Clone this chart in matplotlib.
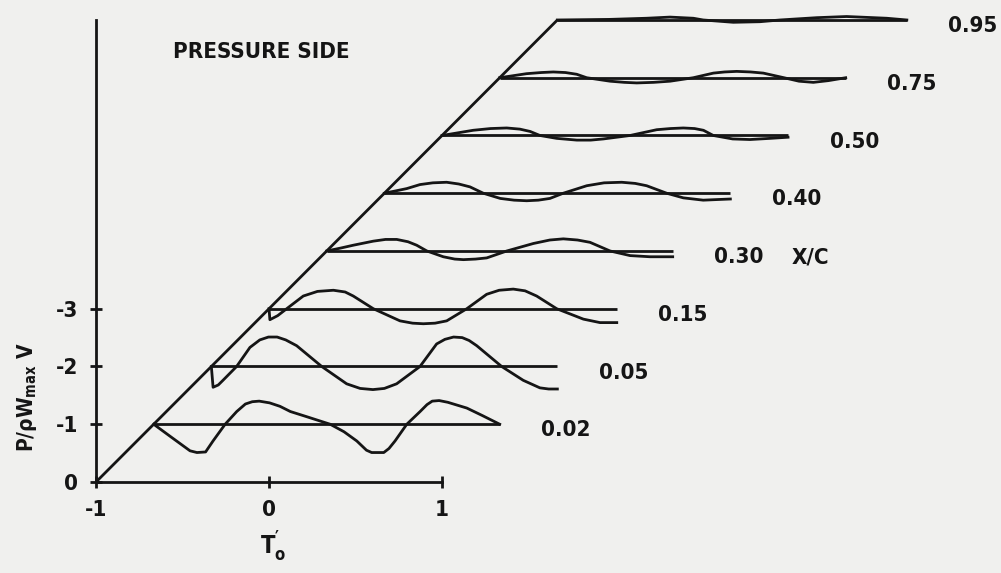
import matplotlib
matplotlib.use("Agg")
import matplotlib.pyplot as plt
from matplotlib import font_manager as fm


# Paleta / estilo do scan
BG_COLOR = "#f0f0ee"
INK = "#151515"
LW = 2.0
FS = 16

# Estacoes X/C, empilhadas de baixo (nivel 1) para cima (nivel 8)
XC_LABELS = ["0.02", "0.05", "0.15", "0.30", "0.40", "0.50", "0.75", "0.95"]
SKEW = 1.0 / 3.0  # deslocamento em T' por nivel (linha diagonal)

# Cada registro: tempo local T' (-1..1) e pressao relativa a linha de base
t_002 = [-1.0, -0.90, -0.79, -0.75, -0.70, -0.657, -0.587, -0.52, -0.47, -0.43, -0.39,
         -0.33, -0.27, -0.21, -0.115, 0.02, 0.10, 0.174, 0.23, 0.26, 0.33, 0.36,
         0.395, 0.463, 0.54, 0.58, 0.61, 0.65, 0.70, 0.81, 0.90, 1.0]
p_002 = [0.0, -0.22, -0.46, -0.49, -0.48, -0.29, 0.0, 0.22, 0.35, 0.39, 0.40,
         0.37, 0.31, 0.22, 0.13, 0.0, -0.13, -0.29, -0.45, -0.49, -0.49, -0.42,
         -0.29, 0.0, 0.22, 0.34, 0.40, 0.41, 0.38, 0.28, 0.15, 0.0]

t_005 = [-1.0, -0.99, -0.96, -0.933, -0.854, -0.777, -0.72, -0.67, -0.62, -0.57,
         -0.507, -0.362, -0.218, -0.14, -0.066, 0.0, 0.071, 0.206, 0.302, 0.35,
         0.40, 0.45, 0.49, 0.534, 0.678, 0.803, 0.899, 0.95, 1.0]
p_005 = [0.0, -0.36, -0.32, -0.24, 0.0, 0.33, 0.46, 0.51, 0.51, 0.46,
         0.36, 0.0, -0.30, -0.38, -0.40, -0.38, -0.30, 0.0, 0.39, 0.47,
         0.51, 0.50, 0.45, 0.36, 0.0, -0.24, -0.37, -0.39, -0.39]

t_015 = [-1.0, -0.995, -0.95, -0.898, -0.802, -0.72, -0.628, -0.56, -0.513, -0.397,
         -0.243, -0.17, -0.108, -0.04, 0.027, 0.143, 0.258, 0.33, 0.412, 0.48,
         0.547, 0.663, 0.817, 0.913, 1.01]
p_015 = [0.0, -0.19, -0.12, 0.0, 0.22, 0.30, 0.32, 0.29, 0.22, 0.0,
         -0.21, -0.25, -0.26, -0.25, -0.21, 0.0, 0.25, 0.32, 0.34, 0.31,
         0.22, 0.0, -0.18, -0.24, -0.24]

t_030 = [-1.0, -0.92, -0.846, -0.731, -0.66, -0.595, -0.53, -0.48, -0.421, -0.326,
         -0.26, -0.21, -0.14, -0.075, 0.041, 0.195, 0.29, 0.368, 0.45, 0.522,
         0.638, 0.754, 0.869, 1.0]
p_030 = [0.0, 0.05, 0.10, 0.17, 0.20, 0.20, 0.16, 0.10, 0.0, -0.10,
         -0.14, -0.15, -0.14, -0.12, 0.0, 0.13, 0.19, 0.21, 0.19, 0.15,
         0.0, -0.08, -0.10, -0.10]

t_040 = [-1.0, -0.871, -0.794, -0.72, -0.64, -0.57, -0.505, -0.428, -0.33, -0.25,
         -0.177, -0.11, -0.043, 0.034, 0.17, 0.27, 0.372, 0.45, 0.516, 0.632,
         0.728, 0.843, 0.92, 1.0]
p_040 = [0.0, 0.08, 0.15, 0.18, 0.19, 0.16, 0.11, 0.0, -0.09, -0.12,
         -0.13, -0.12, -0.09, 0.0, 0.13, 0.18, 0.19, 0.17, 0.13, 0.0,
         -0.08, -0.12, -0.11, -0.10]

t_050 = [-1.0, -0.82, -0.72, -0.626, -0.55, -0.491, -0.434, -0.337, -0.221, -0.14,
         -0.068, 0.087, 0.241, 0.32, 0.395, 0.46, 0.511, 0.568, 0.68, 0.78,
         0.896, 1.0]
p_050 = [0.0, 0.09, 0.12, 0.13, 0.11, 0.07, 0.0, -0.05, -0.08, -0.08,
         -0.06, 0.0, 0.10, 0.12, 0.13, 0.12, 0.09, 0.0, -0.06, -0.07,
         -0.05, -0.03]

t_075 = [-1.0, -0.845, -0.76, -0.69, -0.62, -0.555, -0.497, -0.362, -0.28, -0.208,
         -0.11, -0.015, 0.119, 0.235, 0.30, 0.37, 0.45, 0.524, 0.643, 0.73,
         0.813, 0.90, 1.0]
p_075 = [0.0, 0.07, 0.09, 0.10, 0.09, 0.06, 0.0, -0.06, -0.08, -0.09,
         -0.08, -0.06, 0.0, 0.08, 0.10, 0.11, 0.10, 0.08, 0.0, -0.06,
         -0.08, -0.05, 0.0]

t_095 = [-1.0, -0.7, -0.484, -0.349, -0.214, -0.157, 0.017, 0.171, 0.287,
         0.5, 0.672, 0.904, 1.02]
p_095 = [0.0, 0.01, 0.03, 0.05, 0.03, 0.0, -0.04, -0.03, 0.0,
         0.04, 0.06, 0.03, 0.0]

RECORDS = [(t_002, p_002), (t_005, p_005), (t_015, p_015), (t_030, p_030),
           (t_040, p_040), (t_050, p_050), (t_075, p_075), (t_095, p_095)]

X_TICKS = [-1, 0, 1]
X_TICK_LABELS = ["-1", "0", "1"]
Y_TICKS = [0, -1, -2, -3]
Y_TICK_LABELS = ["0", "-1", "-2", "-3"]


def _pick_narrow_font():
    """Procura uma fonte condensada instalada (o original usa letra estreita)."""
    narrow = []
    for e in fm.fontManager.ttflist:
        if "CJK" in e.name or "Mono" in e.name:
            continue
        if e.stretch in ("condensed", "semi-condensed", "extra-condensed",
                         "ultra-condensed") or "Narrow" in e.name \
                or "Condensed" in e.name:
            narrow.append(e.name)
    for pref in ["Liberation Sans Narrow", "DejaVu Sans", "Roboto", "Noto Sans",
                 "Open Sans", "Liberation"]:
        for n in narrow:
            if n.startswith(pref):
                return n
    if narrow:
        return narrow[0]
    return "Lato"


FONT_NAME = _pick_narrow_font()

plt.rcParams["font.family"] = [FONT_NAME, "DejaVu Sans"]
plt.rcParams["font.weight"] = "bold"
plt.rcParams["font.stretch"] = "condensed"
plt.rcParams["axes.unicode_minus"] = False
plt.rcParams["mathtext.fontset"] = "custom"
plt.rcParams["mathtext.rm"] = FONT_NAME + ":bold"
plt.rcParams["mathtext.it"] = FONT_NAME + ":bold"
plt.rcParams["mathtext.bf"] = FONT_NAME + ":bold"

fig = plt.figure(figsize=(10.01, 5.73), dpi=100)
fig.patch.set_facecolor(BG_COLOR)
ax = fig.add_axes([0, 0, 1, 1])
ax.set_facecolor(BG_COLOR)
ax.set_xlim(-1.555, 4.231)
ax.set_ylim(1.576, -8.346)  # eixo invertido: -3 no topo

n_levels = len(XC_LABELS)

# linha diagonal que liga o inicio de cada registro
ax.plot([-1, -1 + n_levels * SKEW], [0, -n_levels], color=INK, lw=LW,
        solid_capstyle="butt")

for k, ((t, p), label) in enumerate(zip(RECORDS, XC_LABELS), start=1):
    x0 = k * SKEW
    xs = [ti + x0 for ti in t]
    ys = [-k - pi for pi in p]
    # linha de base
    ax.plot([t[0] + x0, t[-1] + x0], [-k, -k], color=INK, lw=LW,
            solid_capstyle="butt")
    # sinal
    ax.plot(xs, ys, color=INK, lw=LW, solid_joinstyle="round")
    ax.text(t[-1] + x0 + 0.24, -k + 0.21, label, ha="left", va="baseline",
            fontsize=FS, color=INK)
    if label == "0.30":
        ax.text(t[-1] + x0 + 0.685, -k + 0.21, "X/C", ha="left",
                va="baseline", fontsize=FS, color=INK)

ax.text(-0.555, -7.34, "PRESSURE SIDE", ha="left", va="baseline",
        fontsize=FS, color=INK)

# eixos no estilo original (so x de -1 a 1, y de 0 ate o topo)
for side in ["top", "right"]:
    ax.spines[side].set_visible(False)
ax.spines["left"].set_position(("data", -1))
ax.spines["left"].set_bounds(-n_levels, 0)
ax.spines["bottom"].set_position(("data", 0))
ax.spines["bottom"].set_bounds(-1, 1)
for side in ["left", "bottom"]:
    ax.spines[side].set_linewidth(LW)
    ax.spines[side].set_color(INK)

ax.set_xticks(X_TICKS)
ax.set_xticklabels(X_TICK_LABELS)
ax.set_yticks(Y_TICKS)
ax.set_yticklabels(Y_TICK_LABELS)
ax.tick_params(direction="inout", length=8, width=2, colors=INK,
               labelsize=FS, pad=9)

fig.text(0.027, 0.307, r"P/ρW$_{max}$ V", rotation=90, ha="center",
         va="center", fontsize=15, color=INK)

ax.text(-0.055, 1.26, r"T$^{\prime}_{o}$", ha="left", va="baseline",
        fontsize=17, color=INK)

plt.savefig("out.png", dpi=100, facecolor=BG_COLOR)
plt.close(fig)
